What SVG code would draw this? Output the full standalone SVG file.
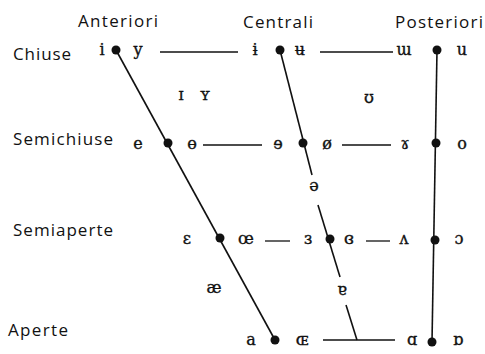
<svg xmlns="http://www.w3.org/2000/svg" width="485" height="354" viewBox="0 0 485 354">
<style>
.lbl{font-family:"Open Sans","Noto Sans",sans-serif;font-size:17px;fill:#111}
.ipa{font-family:"DejaVu Serif","Liberation Serif",serif;font-size:16px;fill:#111;stroke:#111;stroke-width:0.35;text-anchor:middle}
.ln{stroke:#111;stroke-width:1.6;fill:none}
.hl{stroke:#111;stroke-width:1.3;fill:none}
.dot{fill:#111}
</style>
<rect width="485" height="354" fill="#fff"/>
<g id="headers">
<text class="lbl" x="78" y="27" textLength="80" lengthAdjust="spacing">Anteriori</text>
<text class="lbl" x="243" y="28" textLength="70" lengthAdjust="spacing">Centrali</text>
<text class="lbl" x="395" y="28" textLength="88" lengthAdjust="spacing">Posteriori</text>
</g>
<g id="rowlabels">
<text class="lbl" x="13" y="60" textLength="58" lengthAdjust="spacing">Chiuse</text>
<text class="lbl" x="13" y="145" textLength="100" lengthAdjust="spacing">Semichiuse</text>
<text class="lbl" x="13" y="236" textLength="100" lengthAdjust="spacing">Semiaperte</text>
<text class="lbl" x="8" y="336" textLength="60" lengthAdjust="spacing">Aperte</text>
</g>
<g id="connectors">
<line class="ln" x1="116" y1="50" x2="275" y2="340"/>
<line class="ln" x1="280" y1="50" x2="312" y2="175"/>
<line class="ln" x1="318" y1="205" x2="340" y2="277"/>
<line class="ln" x1="346" y1="305" x2="357" y2="340"/>
<line class="ln" x1="437" y1="50" x2="432" y2="342"/>
<line class="hl" x1="160" y1="52" x2="238" y2="52"/>
<line class="hl" x1="320" y1="52" x2="393" y2="52"/>
<line class="hl" x1="203" y1="145" x2="262" y2="145"/>
<line class="hl" x1="342" y1="145" x2="391" y2="145"/>
<line class="hl" x1="265" y1="241" x2="290" y2="241"/>
<line class="hl" x1="366" y1="241" x2="390" y2="241"/>
<line class="hl" x1="323" y1="340" x2="395" y2="340"/>
</g>
<g id="dots">
<circle class="dot" cx="116" cy="50" r="4.5"/>
<circle class="dot" cx="168" cy="143" r="4.5"/>
<circle class="dot" cx="220" cy="238" r="4.5"/>
<circle class="dot" cx="275" cy="340" r="4.5"/>
<circle class="dot" cx="280" cy="50" r="4.5"/>
<circle class="dot" cx="303" cy="143" r="4.5"/>
<circle class="dot" cx="330" cy="239" r="4.5"/>
<circle class="dot" cx="437" cy="50" r="4.5"/>
<circle class="dot" cx="436" cy="143" r="4.5"/>
<circle class="dot" cx="435" cy="240" r="4.5"/>
<circle class="dot" cx="432" cy="342" r="4.5"/>
</g>
<g id="row-close">
<text class="ipa" x="102" y="55">i</text>
<text class="ipa" x="138" y="55">y</text>
<text class="ipa" x="255" y="55">ɨ</text>
<text class="ipa" x="300" y="55">ʉ</text>
<text class="ipa" x="404" y="55">ɯ</text>
<text class="ipa" x="462" y="55">u</text>
</g>
<g id="row-nearclose">
<text class="ipa" x="181" y="100">ɪ</text>
<text class="ipa" x="205" y="100">ʏ</text>
<text class="ipa" x="369" y="103">ʊ</text>
</g>
<g id="row-closemid">
<text class="ipa" x="138" y="149">e</text>
<text class="ipa" x="192" y="149">ɵ</text>
<text class="ipa" x="278" y="149">ɘ</text>
<text class="ipa" x="327" y="149">ø</text>
<text class="ipa" x="405" y="149">ɤ</text>
<text class="ipa" x="462" y="149">o</text>
</g>
<g id="row-mid">
<text class="ipa" x="314" y="191">ə</text>
</g>
<g id="row-openmid">
<text class="ipa" x="187" y="244">ɛ</text>
<text class="ipa" x="246" y="244">œ</text>
<text class="ipa" x="308" y="244">ɜ</text>
<text class="ipa" x="349" y="244">ɞ</text>
<text class="ipa" x="404" y="244">ʌ</text>
<text class="ipa" x="459" y="244">ɔ</text>
</g>
<g id="row-nearopen">
<text class="ipa" x="214" y="293">æ</text>
<text class="ipa" x="342" y="295">ɐ</text>
</g>
<g id="row-open">
<text class="ipa" x="251" y="345">a</text>
<text class="ipa" x="302" y="345">ɶ</text>
<text class="ipa" x="412" y="345">ɑ</text>
<text class="ipa" x="458" y="345">ɒ</text>
</g>
</svg>
